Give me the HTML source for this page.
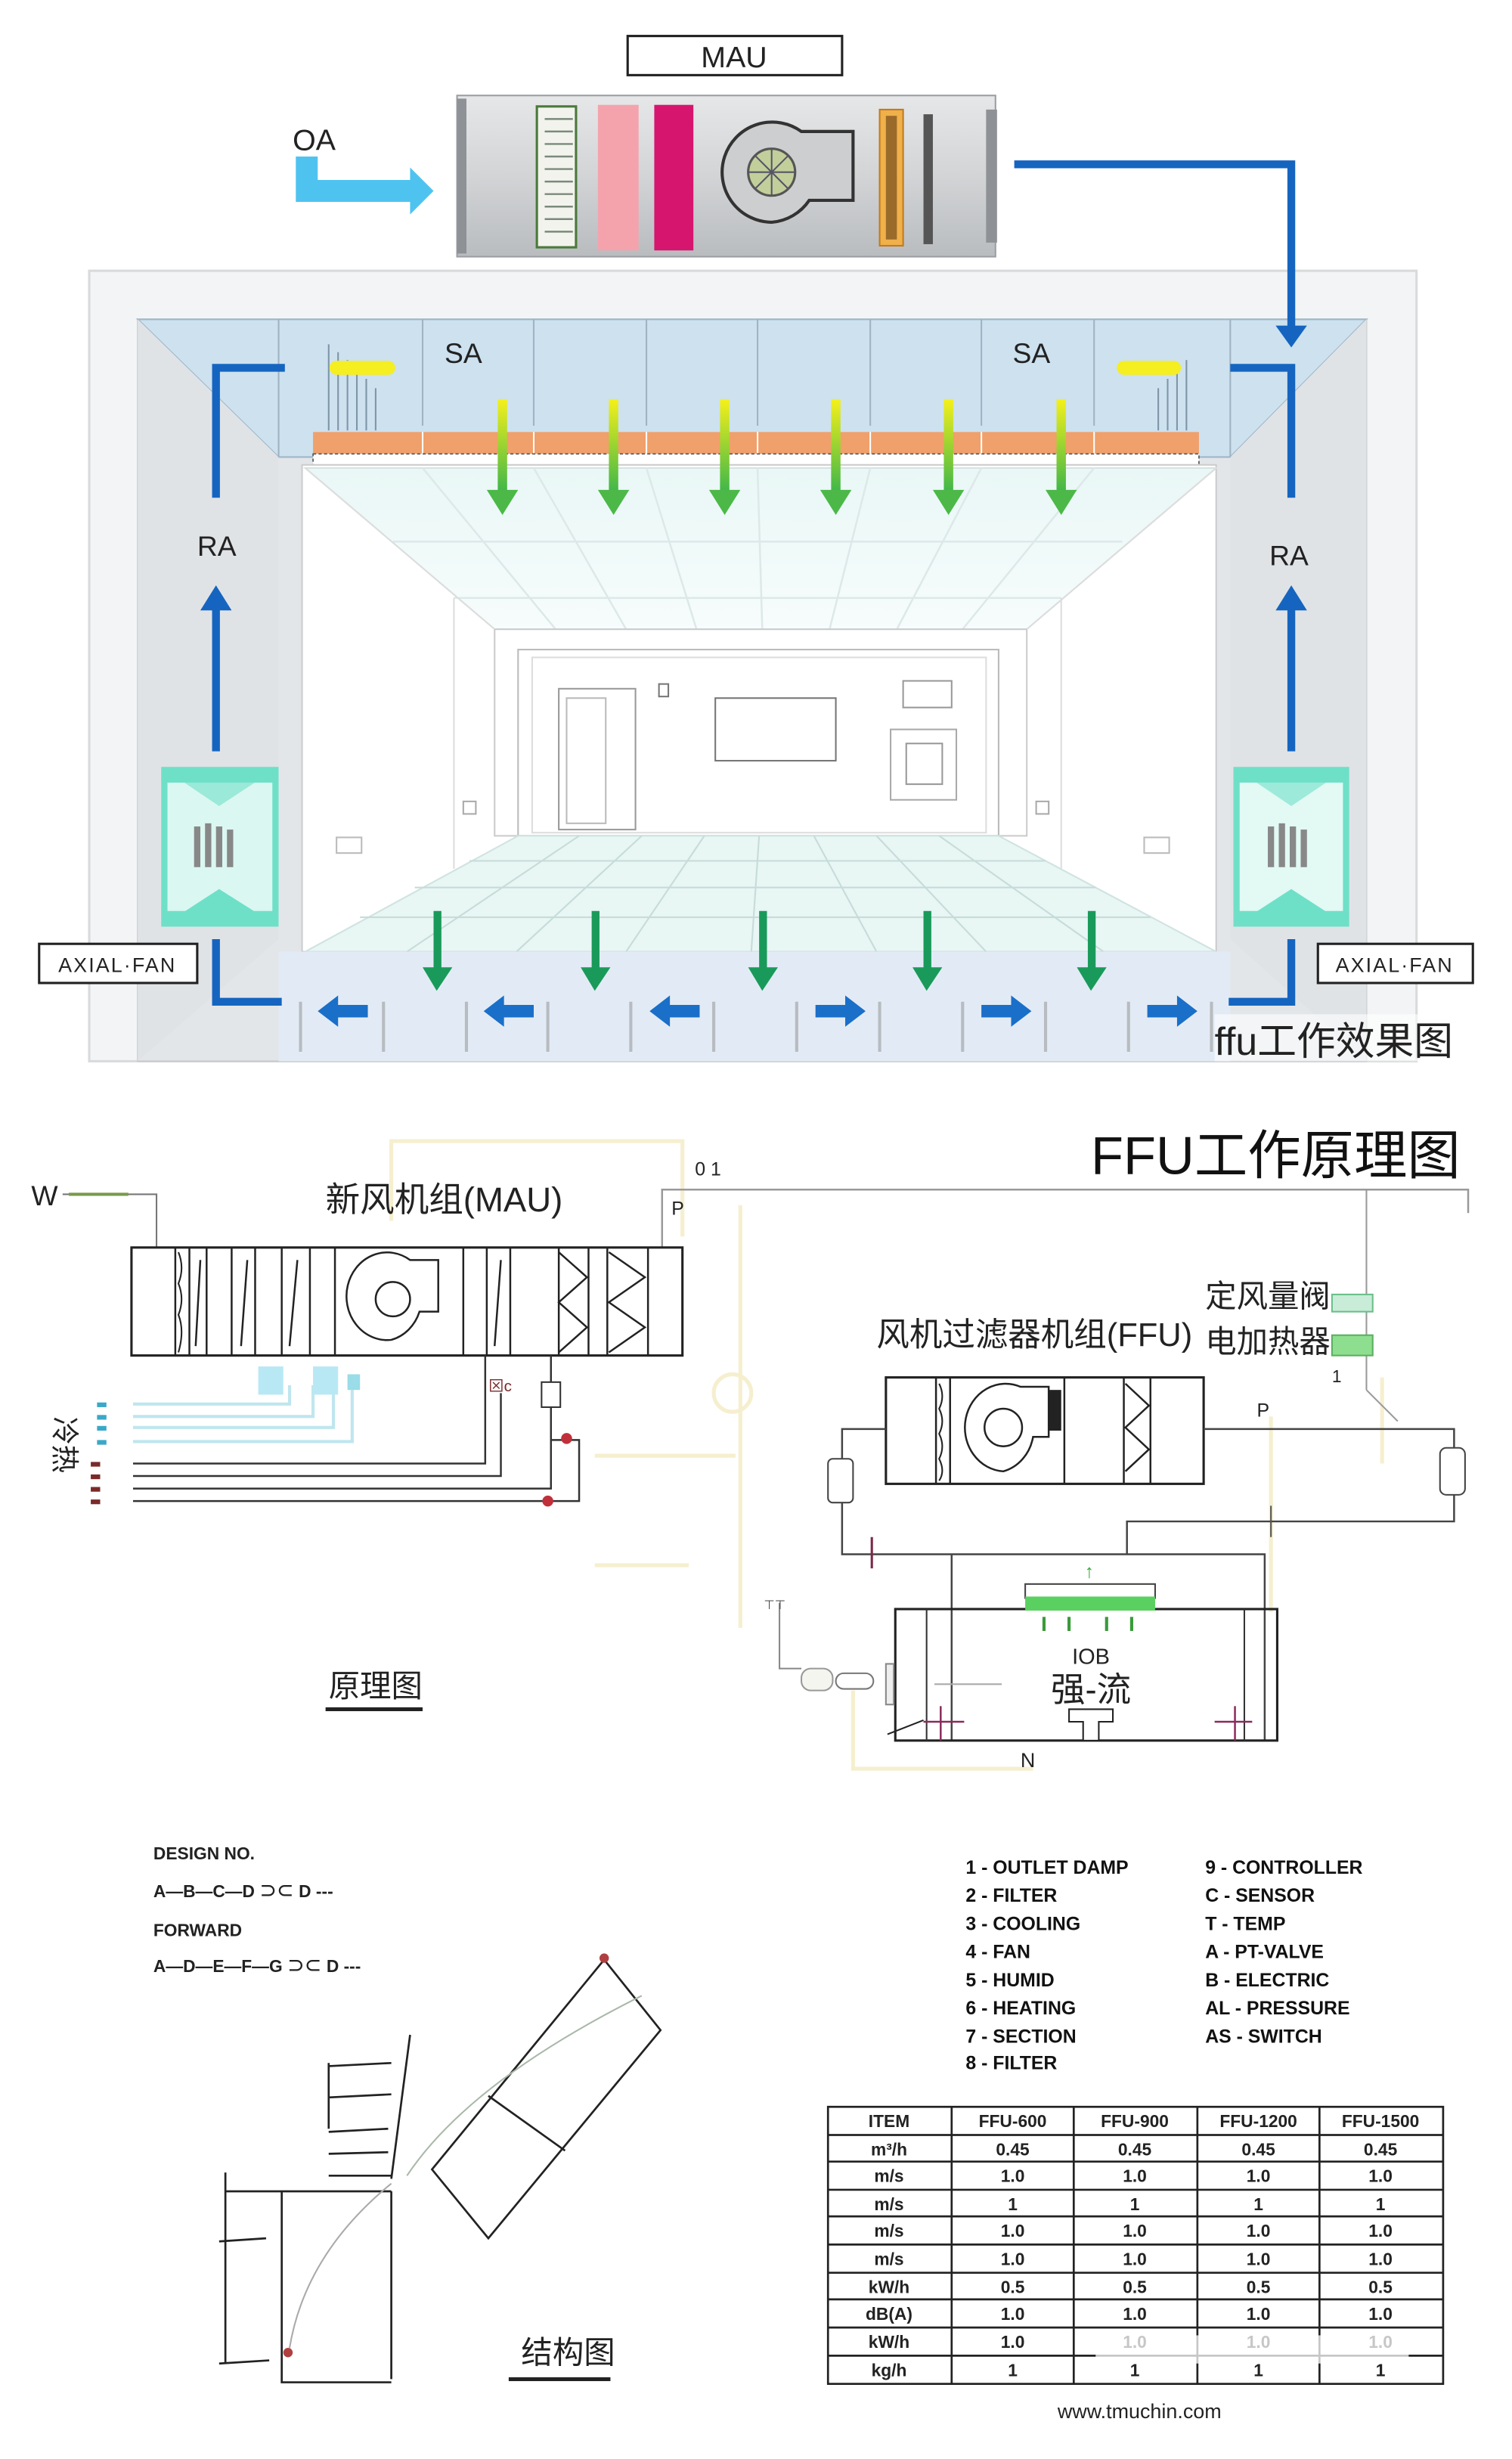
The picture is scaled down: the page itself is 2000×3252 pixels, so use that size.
<!DOCTYPE html>
<html><head><meta charset="utf-8"><style>
html,body{margin:0;padding:0;background:#fff}
svg{display:block}
text{font-family:"Liberation Sans","Noto Sans CJK SC",sans-serif}
</style></head><body>
<svg width="2000" height="3252" viewBox="0 0 966 1571" preserveAspectRatio="none" xmlns="http://www.w3.org/2000/svg">
<defs>
<linearGradient id="ga" x1="0" y1="0" x2="0" y2="1"><stop offset="0" stop-color="#f5f01a"/><stop offset="1" stop-color="#3cb64a"/></linearGradient>
<linearGradient id="mau" x1="0" y1="0" x2="0" y2="1"><stop offset="0" stop-color="#e6e7e8"/><stop offset="0.5" stop-color="#d2d4d6"/><stop offset="1" stop-color="#b9bcbf"/></linearGradient>
<linearGradient id="ceil" x1="0" y1="0" x2="0" y2="1"><stop offset="0" stop-color="#e9f7f6"/><stop offset="1" stop-color="#f7fcfc"/></linearGradient>
</defs>

<!-- MAU label -->
<rect x="401" y="23" width="137" height="25" fill="#fff" stroke="#222" stroke-width="1.5"/>
<text x="469" y="43" font-size="19" text-anchor="middle" fill="#222">MAU</text>

<!-- MAU unit -->
<rect x="292" y="61" width="344" height="103" fill="url(#mau)" stroke="#9a9ea2" stroke-width="1"/>
<rect x="292" y="63" width="6" height="99" fill="#8e9195"/>
<rect x="630" y="70" width="7" height="85" fill="#8e9195"/>
<rect x="343" y="68" width="25" height="90" fill="#f3f3ee" stroke="#4a7a3a" stroke-width="1.5"/>
<g stroke="#7a8a7a" stroke-width="1.2">
<line x1="348" y1="76" x2="366" y2="76"/><line x1="348" y1="84" x2="366" y2="84"/><line x1="348" y1="92" x2="366" y2="92"/><line x1="348" y1="100" x2="366" y2="100"/><line x1="348" y1="108" x2="366" y2="108"/><line x1="348" y1="116" x2="366" y2="116"/><line x1="348" y1="124" x2="366" y2="124"/><line x1="348" y1="132" x2="366" y2="132"/><line x1="348" y1="140" x2="366" y2="140"/><line x1="348" y1="148" x2="366" y2="148"/></g>
<rect x="382" y="67" width="26" height="93" fill="#f4a3ad"/>
<rect x="418" y="67" width="25" height="93" fill="#d6156f"/>
<path d="M493,142 A32,32 0 1 1 512,84 L545,84 L545,128 L517,128 A32,32 0 0 1 493,142 z" fill="#ccced0" stroke="#333" stroke-width="2"/>
<circle cx="493" cy="110" r="15" fill="#c2cf9a" stroke="#555" stroke-width="1.5"/>
<g stroke="#556" stroke-width="1"><line x1="478" y1="110" x2="508" y2="110"/><line x1="493" y1="95" x2="493" y2="125"/><line x1="482" y1="99" x2="504" y2="121"/><line x1="504" y1="99" x2="482" y2="121"/></g>
<rect x="562" y="70" width="15" height="87" fill="#f0b04a" stroke="#c07a20"/>
<rect x="566" y="74" width="7" height="79" fill="#9a6a2a"/>
<rect x="590" y="73" width="6" height="83" fill="#555"/>

<!-- OA -->
<text x="187" y="96" font-size="19" fill="#222">OA</text>
<path d="M196,100 L196,122 L264,122" fill="none" stroke="#4fc3f0" stroke-width="14"/>
<path d="M262,107 L277,122 L262,137 z" fill="#4fc3f0"/>

<!-- outer frame -->
<rect x="57" y="173" width="848" height="505" fill="#f3f4f5" stroke="#d8dadc" stroke-width="1.5"/>
<rect x="88" y="204" width="785" height="474" fill="#e3e6e9" stroke="#c8cbce"/>
<!-- plenum -->
<path d="M88,204 L873,204 L786,292 L178,292 z" fill="#cde1ef" stroke="#9fb7c8"/>
<path d="M88,204 L178,292 L178,600 L88,678 z" fill="#e0e3e6"/>
<path d="M873,204 L786,292 L786,600 L873,678 z" fill="#e0e3e6"/>
<g stroke="#9fb3c3" stroke-width="1"><line x1="178" y1="204" x2="178" y2="292"/><line x1="270" y1="204" x2="270" y2="272"/><line x1="341" y1="204" x2="341" y2="272"/><line x1="413" y1="204" x2="413" y2="272"/><line x1="484" y1="204" x2="484" y2="272"/><line x1="556" y1="204" x2="556" y2="272"/><line x1="627" y1="204" x2="627" y2="272"/><line x1="699" y1="204" x2="699" y2="272"/><line x1="786" y1="204" x2="786" y2="292"/></g>
<g stroke="#7e95a8" stroke-width="1"><line x1="210" y1="220" x2="210" y2="275"/><line x1="216" y1="225" x2="216" y2="275"/><line x1="222" y1="230" x2="222" y2="275"/><line x1="228" y1="236" x2="228" y2="275"/><line x1="234" y1="242" x2="234" y2="275"/><line x1="240" y1="248" x2="240" y2="275"/><line x1="740" y1="248" x2="740" y2="275"/><line x1="746" y1="242" x2="746" y2="275"/><line x1="752" y1="236" x2="752" y2="275"/><line x1="758" y1="230" x2="758" y2="275"/></g>
<rect x="200" y="276" width="566" height="14" fill="#f0a06a"/>
<g stroke="#fff" stroke-width="1"><line x1="270" y1="276" x2="270" y2="300"/><line x1="341" y1="276" x2="341" y2="300"/><line x1="413" y1="276" x2="413" y2="300"/><line x1="484" y1="276" x2="484" y2="300"/><line x1="556" y1="276" x2="556" y2="300"/><line x1="627" y1="276" x2="627" y2="300"/><line x1="699" y1="276" x2="699" y2="300"/></g>
<rect x="200" y="290" width="566" height="7" fill="#fff" stroke="#555" stroke-width="0.8" stroke-dasharray="2,1.5"/>
<text x="284" y="232" font-size="18" fill="#222">SA</text>
<text x="647" y="232" font-size="18" fill="#222">SA</text>
<path d="M215,235 L248,235" stroke="#f5ee20" stroke-width="9" stroke-linecap="round"/>
<path d="M718,235 L750,235" stroke="#f5ee20" stroke-width="9" stroke-linecap="round"/>

<!-- supply pipe -->
<path d="M648,105 L825,105 L825,212" fill="none" stroke="#1565c0" stroke-width="5"/>
<path d="M815,208 L825,222 L835,208 z" fill="#1565c0"/>

<!-- room -->
<rect x="193" y="297" width="584" height="311" fill="#fff" stroke="#ccc"/>
<path d="M195,299 L777,299 L656,402 L316,402 z" fill="url(#ceil)" stroke="#d5e3e3"/>
<g stroke="#dde8e8" stroke-width="1.2"><line x1="251" y1="346" x2="717" y2="346"/><line x1="290" y1="382" x2="678" y2="382"/>
<line x1="270" y1="299" x2="355" y2="402"/><line x1="341" y1="299" x2="400" y2="402"/><line x1="413" y1="299" x2="445" y2="402"/><line x1="484" y1="299" x2="487" y2="402"/><line x1="556" y1="299" x2="530" y2="402"/><line x1="627" y1="299" x2="573" y2="402"/><line x1="699" y1="299" x2="615" y2="402"/></g>
<rect x="316" y="402" width="340" height="132" fill="none" stroke="#ccc"/>
<rect x="331" y="415" width="307" height="119" fill="none" stroke="#bbb"/>
<rect x="340" y="420" width="290" height="112" fill="none" stroke="#ddd"/>
<rect x="357" y="440" width="49" height="90" fill="none" stroke="#999"/>
<rect x="362" y="446" width="25" height="80" fill="none" stroke="#bbb"/>
<rect x="457" y="446" width="77" height="40" fill="#fff" stroke="#777"/>
<rect x="577" y="435" width="31" height="17" fill="none" stroke="#999"/>
<rect x="569" y="466" width="42" height="45" fill="none" stroke="#aaa"/>
<rect x="579" y="475" width="23" height="26" fill="none" stroke="#999"/>
<rect x="421" y="437" width="6" height="8" fill="none" stroke="#777"/>
<line x1="195" y1="299" x2="316" y2="402" stroke="#ddd"/><line x1="777" y1="299" x2="656" y2="402" stroke="#ddd"/>
<line x1="290" y1="382" x2="290" y2="555" stroke="#ddd"/><line x1="678" y1="382" x2="678" y2="555" stroke="#ddd"/>
<rect x="215" y="535" width="16" height="10" fill="none" stroke="#bbb"/><rect x="731" y="535" width="16" height="10" fill="none" stroke="#bbb"/>
<rect x="296" y="512" width="8" height="8" fill="none" stroke="#aaa"/><rect x="662" y="512" width="8" height="8" fill="none" stroke="#aaa"/>
<path d="M331,534 L638,534 L777,608 L195,608 z" fill="#e8f6f4" stroke="#cfe3e0"/>
<g stroke="#c6dcd9" stroke-width="1"><line x1="300" y1="550" x2="668" y2="550"/><line x1="265" y1="567" x2="700" y2="567"/><line x1="230" y1="586" x2="735" y2="586"/>
<line x1="370" y1="534" x2="260" y2="608"/><line x1="410" y1="534" x2="330" y2="608"/><line x1="450" y1="534" x2="400" y2="608"/><line x1="485" y1="534" x2="480" y2="608"/><line x1="520" y1="534" x2="560" y2="608"/><line x1="560" y1="534" x2="630" y2="608"/><line x1="600" y1="534" x2="705" y2="608"/></g>

<!-- floor plenum -->
<rect x="178" y="608" width="608" height="70" fill="#e2ebf5"/>
<g stroke="#b8bcc0" stroke-width="2"><line x1="192" y1="640" x2="192" y2="672"/><line x1="245" y1="640" x2="245" y2="672"/><line x1="298" y1="640" x2="298" y2="672"/><line x1="350" y1="640" x2="350" y2="672"/><line x1="403" y1="640" x2="403" y2="672"/><line x1="456" y1="640" x2="456" y2="672"/><line x1="509" y1="640" x2="509" y2="672"/><line x1="562" y1="640" x2="562" y2="672"/><line x1="615" y1="640" x2="615" y2="672"/><line x1="668" y1="640" x2="668" y2="672"/><line x1="721" y1="640" x2="721" y2="672"/><line x1="774" y1="640" x2="774" y2="672"/></g>

<!-- green supply arrows -->
<g fill="url(#ga)">
<rect x="318" y="255" width="6" height="60"/><rect x="389" y="255" width="6" height="60"/><rect x="460" y="255" width="6" height="60"/><rect x="531" y="255" width="6" height="60"/><rect x="603" y="255" width="6" height="60"/><rect x="675" y="255" width="6" height="60"/></g>
<g fill="#4cb848"><path d="M311,313 L321,329 L331,313z"/><path d="M382,313 L392,329 L402,313z"/><path d="M453,313 L463,329 L473,313z"/><path d="M524,313 L534,329 L544,313z"/><path d="M596,313 L606,329 L616,313z"/><path d="M668,313 L678,329 L688,313z"/></g>
<!-- floor green arrows -->
<g fill="#1a9a5a"><rect x="277" y="582" width="5" height="38"/><rect x="378" y="582" width="5" height="38"/><rect x="485" y="582" width="5" height="38"/><rect x="590" y="582" width="5" height="38"/><rect x="695" y="582" width="5" height="38"/>
<path d="M270,618 L279,633 L289,618z"/><path d="M371,618 L380,633 L390,618z"/><path d="M478,618 L487,633 L497,618z"/><path d="M583,618 L592,633 L602,618z"/><path d="M688,618 L697,633 L707,618z"/></g>
<!-- blue horizontal arrows -->
<g fill="#1a6fc8">
<path d="M235,642 L216,642 L216,636 L203,646 L216,656 L216,650 L235,650z"/>
<path d="M341,642 L322,642 L322,636 L309,646 L322,656 L322,650 L341,650z"/>
<path d="M447,642 L428,642 L428,636 L415,646 L428,656 L428,650 L447,650z"/>
<path d="M521,642 L540,642 L540,636 L553,646 L540,656 L540,650 L521,650z"/>
<path d="M627,642 L646,642 L646,636 L659,646 L646,656 L646,650 L627,650z"/>
<path d="M733,642 L752,642 L752,636 L765,646 L752,656 L752,650 L733,650z"/></g>

<!-- return air pipes -->
<g fill="none" stroke="#1565c0" stroke-width="5">
<path d="M182,235 L138,235 L138,318"/><path d="M786,235 L825,235 L825,318"/>
<line x1="138" y1="480" x2="138" y2="388"/><line x1="825" y1="480" x2="825" y2="388"/>
<path d="M138,600 L138,640 L180,640"/><path d="M825,600 L825,640 L785,640"/></g>
<path d="M128,390 L138,374 L148,390z" fill="#1565c0"/><path d="M815,390 L825,374 L835,390z" fill="#1565c0"/>
<text x="126" y="355" font-size="18" fill="#222">RA</text>
<text x="811" y="361" font-size="18" fill="#222">RA</text>

<!-- axial fans -->
<g>
<rect x="103" y="490" width="75" height="102" fill="#6fe0c8"/>
<rect x="107" y="500" width="67" height="82" fill="#fff" opacity="0.75"/>
<rect x="124" y="528" width="4" height="26" fill="#888"/><rect x="131" y="526" width="4" height="28" fill="#888"/><rect x="138" y="528" width="4" height="26" fill="#888"/><rect x="145" y="530" width="4" height="24" fill="#888"/>
<path d="M103,490 L178,490 L140,515 z" fill="#6fe0c8" opacity="0.6"/><path d="M103,592 L178,592 L140,568 z" fill="#6fe0c8"/>
</g>
<g>
<rect x="788" y="490" width="74" height="102" fill="#6fe0c8"/>
<rect x="792" y="500" width="66" height="82" fill="#fff" opacity="0.8"/>
<rect x="810" y="528" width="4" height="26" fill="#888"/><rect x="817" y="526" width="4" height="28" fill="#888"/><rect x="824" y="528" width="4" height="26" fill="#888"/><rect x="831" y="530" width="4" height="24" fill="#888"/>
<path d="M788,490 L862,490 L825,515 z" fill="#6fe0c8" opacity="0.6"/><path d="M788,592 L862,592 L825,568 z" fill="#6fe0c8"/>
</g>
<rect x="25" y="603" width="101" height="25" fill="#fff" stroke="#222" stroke-width="1.5"/>
<text x="75" y="621" font-size="13" text-anchor="middle" fill="#222" letter-spacing="1">AXIAL·FAN</text>
<rect x="842" y="603" width="99" height="25" fill="#fff" stroke="#222" stroke-width="1.5"/>
<text x="891" y="621" font-size="13" text-anchor="middle" fill="#222" letter-spacing="1">AXIAL·FAN</text>
<rect x="776" y="648" width="176" height="30" fill="#fff" opacity="0.6"/>
<text x="776" y="674" font-size="25" fill="#222">ffu工作效果图</text>

<!-- ===== middle: principle diagram ===== -->
<text x="697" y="750" font-size="34" fill="#111">FFU工作原理图</text>
<g fill="none" stroke="#f6efcf" stroke-width="2.5">
<path d="M250,780 L250,729 L436,729 L436,790"/><line x1="473" y1="770" x2="473" y2="1040"/><line x1="380" y1="1000" x2="440" y2="1000"/><path d="M380,930 L470,930"/><circle cx="468" cy="890" r="12"/>
<path d="M812,905 L812,1030"/><path d="M883,880 L883,935"/><path d="M545,1080 L545,1130 L660,1130"/></g>
<text x="20" y="770" font-size="18" fill="#222">W</text>
<path d="M40,763 L100,763 L100,797" fill="none" stroke="#777" stroke-width="1"/>
<line x1="44" y1="763" x2="82" y2="763" stroke="#7a9a4a" stroke-width="2"/>
<text x="208" y="774" font-size="22" fill="#222">新风机组(MAU)</text>
<text x="444" y="751" font-size="12" fill="#222">0 1</text>
<path d="M423,797 L423,760 L938,760 L938,775" fill="none" stroke="#999" stroke-width="1.2"/>
<text x="429" y="776" font-size="12" fill="#222">P</text>
<line x1="873" y1="760" x2="873" y2="888" stroke="#999"/>
<path d="M873,888 L893,908" stroke="#999"/>
<!-- MAU schematic -->
<rect x="84" y="797" width="352" height="69" fill="#fff" stroke="#222" stroke-width="1.5"/>
<g stroke="#222" stroke-width="1.2" fill="none">
<line x1="112" y1="797" x2="112" y2="866"/><line x1="121" y1="797" x2="121" y2="866"/><line x1="132" y1="797" x2="132" y2="866"/><line x1="148" y1="797" x2="148" y2="866"/><line x1="163" y1="797" x2="163" y2="866"/><line x1="180" y1="797" x2="180" y2="866"/><line x1="198" y1="797" x2="198" y2="866"/><line x1="214" y1="797" x2="214" y2="866"/><line x1="296" y1="797" x2="296" y2="866"/><line x1="311" y1="797" x2="311" y2="866"/><line x1="326" y1="797" x2="326" y2="866"/><line x1="357" y1="797" x2="357" y2="866"/><line x1="376" y1="797" x2="376" y2="866"/><line x1="388" y1="797" x2="388" y2="866"/><line x1="414" y1="797" x2="414" y2="866"/>
<line x1="125" y1="860" x2="128" y2="805"/><line x1="154" y1="860" x2="158" y2="805"/><line x1="185" y1="860" x2="190" y2="805"/><line x1="316" y1="860" x2="320" y2="805"/>
<path d="M357,800 L375,816 L357,832 L375,848 L357,864"/><path d="M389,800 L412,816 L389,832 L412,848 L389,864"/>
<path d="M250,856 A26,28 0 1 1 262,805 L280,805 L280,838 L268,838 A26,28 0 0 1 250,856z"/><circle cx="251" cy="830" r="11"/></g>
<path d="M114,800 q4,10 0,20 q4,10 0,20 q4,10 0,24" stroke="#222" fill="none"/>
<!-- MAU pipes -->
<g fill="none" stroke-width="2">
<path d="M85,897 L185,897 L185,885" stroke="#bfe6ee"/><path d="M85,905 L200,905 L200,885" stroke="#bfe6ee"/><path d="M85,912 L213,912 L213,885" stroke="#bfe6ee"/><path d="M85,921 L225,921 L225,885" stroke="#bfe6ee"/>
<path d="M85,935 L310,935 L310,866" stroke="#333" stroke-width="1.2"/><path d="M85,943 L320,943 L320,890" stroke="#333" stroke-width="1.2"/><path d="M85,951 L352,951 L352,866" stroke="#333" stroke-width="1.2"/><path d="M85,959 L370,959 L370,920 L352,920" stroke="#333" stroke-width="1.2"/></g>
<rect x="165" y="873" width="16" height="18" fill="#b8e8f4"/><rect x="200" y="873" width="16" height="18" fill="#b8e8f4"/><rect x="222" y="878" width="8" height="10" fill="#9adce8"/>
<rect x="346" y="883" width="12" height="16" fill="#fff" stroke="#333"/>
<text x="312" y="889" font-size="10" fill="#7a2a2a">⊠c</text>
<circle cx="362" cy="919" r="3.5" fill="#c0303a"/><circle cx="350" cy="959" r="3.5" fill="#c0303a"/>
<g fill="#7a2a2a"><rect x="58" y="934" width="6" height="3"/><rect x="58" y="942" width="6" height="3"/><rect x="58" y="950" width="6" height="3"/><rect x="58" y="958" width="6" height="3"/></g>
<g fill="#3aa8c8"><rect x="62" y="896" width="6" height="3"/><rect x="62" y="904" width="6" height="3"/><rect x="62" y="911" width="6" height="3"/><rect x="62" y="920" width="6" height="3"/></g>
<text x="35" y="925" font-size="18" fill="#222" transform="rotate(90 45 915)">冷热</text>

<!-- FFU -->
<text x="560" y="860" font-size="21" fill="#222">风机过滤器机组(FFU)</text>
<text x="770" y="835" font-size="20" fill="#222">定风量阀</text>
<text x="770" y="864" font-size="20" fill="#222">电加热器</text>
<rect x="851" y="827" width="26" height="11" fill="#c8ecd8" stroke="#6abf8a"/>
<rect x="851" y="853" width="26" height="13" fill="#8ede90" stroke="#5ab060"/>
<text x="851" y="883" font-size="11" fill="#222">1</text>
<rect x="566" y="880" width="203" height="68" fill="#fff" stroke="#222" stroke-width="1.5"/>
<g stroke="#222" stroke-width="1.2" fill="none">
<line x1="598" y1="880" x2="598" y2="948"/><line x1="607" y1="880" x2="607" y2="948"/><line x1="680" y1="880" x2="680" y2="948"/><line x1="718" y1="880" x2="718" y2="948"/><line x1="735" y1="880" x2="735" y2="948"/>
<path d="M719,884 L734,898 L719,912 L734,926 L719,940"/>
<path d="M641,940 A26,28 0 1 1 652,886 L670,886 L670,918 L660,918 A26,28 0 0 1 641,940z"/><circle cx="641" cy="912" r="12"/></g>
<rect x="670" y="888" width="8" height="26" fill="#222"/>
<path d="M600,884 q4,8 0,16 q4,8 0,16 q4,8 0,16 q4,8 0,14" stroke="#222" fill="none"/>
<g fill="none" stroke="#444" stroke-width="1.2">
<path d="M566,913 L538,913 L538,993 L808,993 L808,1112"/><path d="M769,913 L929,913 L929,972 L720,972 L720,993"/>
<line x1="608" y1="993" x2="608" y2="1112"/></g>
<rect x="529" y="932" width="16" height="28" rx="3" fill="#fff" stroke="#444"/>
<rect x="920" y="925" width="16" height="30" rx="4" fill="#fff" stroke="#444"/>
<text x="803" y="905" font-size="12" fill="#222">P</text>
<line x1="557" y1="982" x2="557" y2="1002" stroke="#7a2a4a" stroke-width="1.5"/>
<line x1="812" y1="962" x2="812" y2="982" stroke="#555"/>
<rect x="572" y="1028" width="244" height="84" fill="none" stroke="#222" stroke-width="1.5"/>
<line x1="592" y1="1028" x2="592" y2="1112" stroke="#333"/><line x1="795" y1="1028" x2="795" y2="1112" stroke="#333"/>
<rect x="655" y="1012" width="83" height="9" fill="#fff" stroke="#444"/>
<rect x="655" y="1020" width="83" height="9" fill="#5ad060"/>
<g stroke="#3a9a3a" stroke-width="2"><line x1="667" y1="1033" x2="667" y2="1042"/><line x1="683" y1="1033" x2="683" y2="1042"/><line x1="707" y1="1033" x2="707" y2="1042"/><line x1="723" y1="1033" x2="723" y2="1042"/></g>
<text x="693" y="1008" font-size="12" fill="#3aaa3a">↑</text>
<text x="697" y="1063" font-size="14" text-anchor="middle" fill="#222">IOB</text>
<text x="697" y="1087" font-size="22" text-anchor="middle" fill="#222">强-流</text>
<path d="M683,1092 L711,1092 L711,1100 L702,1100 L702,1112 L692,1112 L692,1100 L683,1100z" fill="#fff" stroke="#222"/>
<g stroke="#8a2a5a" stroke-width="1.2"><line x1="590" y1="1100" x2="616" y2="1100"/><line x1="601" y1="1090" x2="601" y2="1112"/><line x1="776" y1="1100" x2="800" y2="1100"/><line x1="789" y1="1090" x2="789" y2="1112"/></g>
<line x1="597" y1="1076" x2="640" y2="1076" stroke="#aaa"/>
<rect x="566" y="1063" width="5" height="26" fill="#eee" stroke="#888"/>
<path d="M498,1024 L498,1066 L512,1066" fill="none" stroke="#888"/>
<text x="488" y="1028" font-size="8" fill="#444">⊤⊤</text>
<rect x="512" y="1066" width="20" height="14" rx="6" fill="#f5f5f0" stroke="#999"/>
<rect x="534" y="1069" width="24" height="10" rx="5" fill="#fff" stroke="#777"/>
<text x="652" y="1129" font-size="13" fill="#222">N</text>
<line x1="567" y1="1108" x2="590" y2="1099" stroke="#222"/>
<text x="210" y="1084" font-size="20" fill="#222">原理图</text>
<line x1="208" y1="1092" x2="270" y2="1092" stroke="#222" stroke-width="2.5"/>

<!-- ===== bottom: structure diagram ===== -->
<g font-size="11" fill="#222" font-weight="bold">
<text x="98" y="1188">DESIGN NO.</text>
<text x="98" y="1212">A—B—C—D ⊃⊂ D ---</text>
<text x="98" y="1237">FORWARD</text>
<text x="98" y="1260">A—D—E—F—G ⊃⊂ D ---</text></g>
<g stroke="#222" stroke-width="1.3" fill="none">
<polygon points="386,1252 422,1297 312,1430 276,1386"/>
<line x1="312" y1="1339" x2="361" y2="1374"/>
<path d="M250,1400 L250,1520 M250,1400 L144,1400 M144,1388 L144,1510 M180,1400 L180,1522 L250,1522 M140,1432 L170,1430 M140,1510 L172,1508"/>
<path d="M210,1320 L250,1318 M210,1340 L250,1338 M210,1362 L248,1360 M210,1376 L248,1375 M210,1390 L250,1390 M210,1318 L210,1360"/>
<path d="M250,1392 L262,1300"/>
</g>
<path d="M260,1390 Q300,1330 410,1275" fill="none" stroke="#aab8aa" stroke-width="1"/>
<path d="M250,1395 Q195,1440 185,1500" fill="none" stroke="#aaa" stroke-width="1"/>
<circle cx="386" cy="1251" r="3" fill="#b04040"/><circle cx="184" cy="1503" r="3" fill="#b04040"/>
<text x="333" y="1510" font-size="20" fill="#222">结构图</text>
<line x1="325" y1="1520" x2="390" y2="1520" stroke="#222" stroke-width="2.5"/>

<!-- legend -->
<g font-size="12" font-weight="bold" fill="#111">
<text x="617" y="1197">1 - OUTLET DAMP</text><text x="617" y="1215">2 - FILTER</text><text x="617" y="1233">3 - COOLING</text><text x="617" y="1251">4 - FAN</text><text x="617" y="1269">5 - HUMID</text><text x="617" y="1287">6 - HEATING</text><text x="617" y="1305">7 - SECTION</text><text x="617" y="1322">8 - FILTER</text>
<text x="770" y="1197">9 - CONTROLLER</text><text x="770" y="1215">C - SENSOR</text><text x="770" y="1233">T - TEMP</text><text x="770" y="1251">A - PT-VALVE</text><text x="770" y="1269">B - ELECTRIC</text><text x="770" y="1287">AL - PRESSURE</text><text x="770" y="1305">AS - SWITCH</text></g>

<!-- table -->
<g stroke="#222" stroke-width="1.3" fill="none">
<rect x="529" y="1346" width="393" height="177"/>
<line x1="608" y1="1346" x2="608" y2="1523"/><line x1="686" y1="1346" x2="686" y2="1523"/><line x1="765" y1="1346" x2="765" y2="1523"/><line x1="843" y1="1346" x2="843" y2="1523"/>
<line x1="529" y1="1364" x2="922" y2="1364"/><line x1="529" y1="1381" x2="922" y2="1381"/><line x1="529" y1="1399" x2="922" y2="1399"/><line x1="529" y1="1416" x2="922" y2="1416"/><line x1="529" y1="1434" x2="922" y2="1434"/><line x1="529" y1="1452" x2="922" y2="1452"/><line x1="529" y1="1469" x2="922" y2="1469"/><line x1="529" y1="1487" x2="922" y2="1487"/><line x1="529" y1="1505" x2="922" y2="1505"/></g>
<g font-size="11" fill="#222" text-anchor="middle" font-weight="bold">
<text x="568" y="1359">ITEM</text><text x="647" y="1359">FFU-600</text><text x="725" y="1359">FFU-900</text><text x="804" y="1359">FFU-1200</text><text x="882" y="1359">FFU-1500</text>
<text x="568" y="1377">m³/h</text><text x="647" y="1377">0.45</text><text x="725" y="1377">0.45</text><text x="804" y="1377">0.45</text><text x="882" y="1377">0.45</text>
<text x="568" y="1394">m/s</text><text x="647" y="1394">1.0</text><text x="725" y="1394">1.0</text><text x="804" y="1394">1.0</text><text x="882" y="1394">1.0</text>
<text x="568" y="1412">m/s</text><text x="647" y="1412">1</text><text x="725" y="1412">1</text><text x="804" y="1412">1</text><text x="882" y="1412">1</text>
<text x="568" y="1429">m/s</text><text x="647" y="1429">1.0</text><text x="725" y="1429">1.0</text><text x="804" y="1429">1.0</text><text x="882" y="1429">1.0</text>
<text x="568" y="1447">m/s</text><text x="647" y="1447">1.0</text><text x="725" y="1447">1.0</text><text x="804" y="1447">1.0</text><text x="882" y="1447">1.0</text>
<text x="568" y="1465">kW/h</text><text x="647" y="1465">0.5</text><text x="725" y="1465">0.5</text><text x="804" y="1465">0.5</text><text x="882" y="1465">0.5</text>
<text x="568" y="1482">dB(A)</text><text x="647" y="1482">1.0</text><text x="725" y="1482">1.0</text><text x="804" y="1482">1.0</text><text x="882" y="1482">1.0</text>
<text x="568" y="1500">kW/h</text><text x="647" y="1500">1.0</text><text x="725" y="1500">1.0</text><text x="804" y="1500">1.0</text><text x="882" y="1500">1.0</text>
<text x="568" y="1518">kg/h</text><text x="647" y="1518">1</text><text x="725" y="1518">1</text><text x="804" y="1518">1</text><text x="882" y="1518">1</text></g>
<rect x="700" y="1492" width="200" height="18" fill="#fff" opacity="0.75"/>
<text x="728" y="1545" font-size="13" text-anchor="middle" fill="#222">www.tmuchin.com</text>
</svg>
</body></html>
